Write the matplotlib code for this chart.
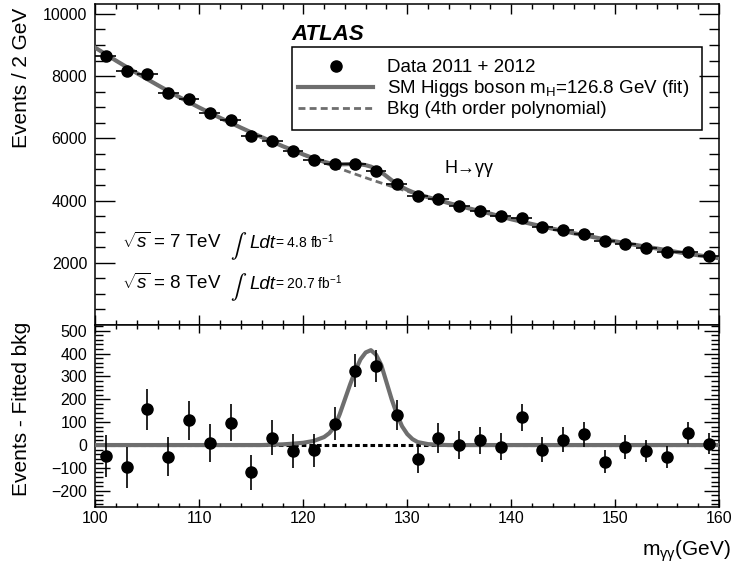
import matplotlib.pyplot as plt
import numpy as np
from matplotlib.patches import Rectangle
from matplotlib.lines import Line2D
from matplotlib.ticker import FixedLocator, MultipleLocator

plt.rcParams['font.family'] = ['Liberation Sans', 'DejaVu Sans']
plt.rcParams['mathtext.fontset'] = 'custom'
plt.rcParams['mathtext.rm'] = 'Liberation Sans'
plt.rcParams['mathtext.it'] = 'Liberation Sans:italic'
plt.rcParams['mathtext.bf'] = 'Liberation Sans:bold'

# diphoton mass bins (2 GeV wide, bin centres)
mass = [101, 103, 105, 107, 109, 111, 113, 115, 117, 119,
        121, 123, 125, 127, 129, 131, 133, 135, 137, 139,
        141, 143, 145, 147, 149, 151, 153, 155, 157, 159]
events = [8640, 8175, 8058, 7465, 7262, 6825, 6592, 6072, 5923, 5578,
          5312, 5180, 5178, 4965, 4520, 4138, 4045, 3815, 3678, 3492,
          3455, 3150, 3040, 2935, 2700, 2620, 2488, 2345, 2342, 2205]
events_err = [93, 90, 90, 86, 85, 83, 81, 78, 77, 75,
              73, 72, 72, 70, 67, 64, 64, 62, 61, 59,
              59, 56, 55, 54, 52, 51, 50, 48, 48, 47]
# events minus fitted background
resid = [-47, -98, 157, -51, 108, 10, 97, -120, 33, -26,
         -23, 93, 326, 346, 132, -60, 31, 0, 20, -8,
         122, -20, 24, 47, -72, -8, -26, -53, 54, 6]

# fitted curves
fit_mass = [100, 102, 104, 106, 108, 110, 112, 114, 116, 118,
            119, 120, 121, 122, 122.5, 123, 123.5, 124, 124.5, 125,
            125.5, 126, 126.5, 127, 127.5, 128, 128.5, 129, 129.5, 130,
            130.5, 131, 132, 133, 134, 136, 138, 140, 142, 144,
            146, 148, 150, 152, 154, 156, 158, 160]
bkg_fit = [8910, 8493, 8093, 7708, 7338, 6988, 6658, 6343, 6038, 5748,
           5610, 5473, 5340, 5213, 5151, 5090, 5030, 4969, 4909, 4850,
           4792, 4734, 4677, 4620, 4564, 4509, 4454, 4400, 4349, 4299,
           4249, 4200, 4104, 4010, 3919, 3744, 3579, 3400, 3245, 3095,
           2952, 2820, 2690, 2572, 2460, 2345, 2242, 2150]
sig_fit = [0, 0, 0, 0, 0, 0, 0, 0, 0, 3,
           6, 10, 18, 35, 52, 80, 135, 200, 265, 325,
           375, 405, 415, 395, 350, 275, 200, 135, 82, 48,
           26, 13, 4, 1, 0, 0, 0, 0, 0, 0,
           0, 0, 0, 0, 0, 0, 0, 0]

energies = ['7', '8']
lumis = ['4.8', '20.7']

sb_fit = np.array(bkg_fit) + np.array(sig_fit)
zero_line = np.zeros(len(fit_mass))

line_grey = '#6e6e6e'

fig = plt.figure(figsize=(7.34, 5.70), dpi=100)
ax1 = fig.add_axes([0.1301, 0.4298, 0.8495, 0.5632])
ax2 = fig.add_axes([0.1301, 0.1105, 0.8495, 0.3193])

# ---- top panel
ax1.plot(fit_mass, bkg_fit, color=line_grey, lw=2.0, ls=(0, (2.5, 1.5)), zorder=2)
ax1.plot(fit_mass, sb_fit, color=line_grey, lw=3.0, zorder=3)
ax1.errorbar(mass, events, yerr=events_err, xerr=1, fmt='o', color='black',
             ms=8, elinewidth=1.2, capsize=0, zorder=4)
ax1.set_xlim(100, 160)
ax1.set_ylim(0, 10320)
ax1.yaxis.set_major_locator(FixedLocator([2000, 4000, 6000, 8000, 10000]))
ax1.yaxis.set_minor_locator(MultipleLocator(500))

# ---- bottom panel
ax2.plot(fit_mass, zero_line, color='black', lw=2.2, ls=(0, (1.5, 1.0)), zorder=2)
ax2.plot(fit_mass, sig_fit, color=line_grey, lw=3.0, zorder=3)
ax2.errorbar(mass, resid, yerr=events_err, fmt='o', color='black',
             ms=8, elinewidth=1.2, capsize=0, zorder=4)
ax2.set_xlim(100, 160)
ax2.set_ylim(-271, 525)
ax2.yaxis.set_major_locator(FixedLocator([-200, -100, 0, 100, 200, 300, 400, 500]))
ax2.yaxis.set_minor_locator(MultipleLocator(20))

for ax in (ax1, ax2):
    ax.xaxis.set_major_locator(MultipleLocator(10))
    ax.xaxis.set_minor_locator(MultipleLocator(2))
    ax.tick_params(which='both', direction='in', top=True, right=True,
                   width=1.0, colors='black', labelsize=11.5)
    for sp in ax.spines.values():
        sp.set_linewidth(1.1)

ax1.tick_params(axis='x', which='major', length=7)
ax1.tick_params(axis='x', which='minor', length=3.6)
ax1.tick_params(axis='y', which='major', length=14.5, pad=6)
ax1.tick_params(axis='y', which='minor', length=7.5)
ax1.tick_params(labelbottom=False)
ax2.tick_params(axis='x', which='major', length=5.5, pad=3)
ax2.tick_params(axis='x', which='minor', length=2.8)
ax2.tick_params(axis='y', which='major', length=11, pad=6)
ax2.tick_params(axis='y', which='minor', length=6)

# axis titles
fig.text(22 / 734, 1 - 8 / 570, 'Events / 2 GeV', rotation=90,
         ha='center', va='top', fontsize=15)
fig.text(22 / 734, 1 - 322 / 570, 'Events - Fitted bkg', rotation=90,
         ha='center', va='top', fontsize=15)
fig.text(731 / 734, 0.010, r'm$_{\mathrm{\gamma\gamma}}$(GeV)',
         ha='right', va='bottom', fontsize=15)

# ATLAS label, legend, annotations
ax1.text(0.315, 0.888, 'ATLAS', transform=ax1.transAxes, fontsize=16,
         fontweight='bold', fontstyle='italic', va='baseline')
ax1.add_patch(Rectangle((0.315, 0.607), 0.658, 0.259, transform=ax1.transAxes,
                        fill=False, lw=1.1, ec='black', zorder=5))
handles = [
    Line2D([], [], marker='o', ls='none', color='black', ms=8),
    Line2D([], [], color=line_grey, lw=3.0),
    Line2D([], [], color=line_grey, lw=2.0, ls=(0, (2.5, 1.5))),
]
labels = ['Data 2011 + 2012',
          r'SM Higgs boson m$_{\mathrm{H}}$=126.8 GeV (fit)',
          'Bkg (4th order polynomial)']
ax1.legend(handles, labels, loc='upper left', bbox_to_anchor=(0.3248, 0.828),
           frameon=False, fontsize=13.5, borderpad=0, borderaxespad=0,
           handlelength=4.0, handletextpad=0.75, labelspacing=0.1)

ax1.text(0.559, 0.489, 'H→γγ', transform=ax1.transAxes, fontsize=13,
         va='center', ha='left')

for y, energy, lumi in zip([0.240, 0.112], energies, lumis):
    ax1.text(0.0425, y, r'$\sqrt{s}$ = %s TeV' % energy, transform=ax1.transAxes,
             fontsize=13.5, va='baseline')
    ax1.text(0.2165, y - 0.012, r'$\int$', transform=ax1.transAxes, fontsize=17,
             math_fontfamily='stix', va='baseline')
    ax1.text(0.2465, y, 'Ldt', transform=ax1.transAxes, fontsize=13.5,
             fontstyle='italic', va='baseline')
    ax1.text(0.2880, y, '= %s fb$^{-1}$' % lumi, transform=ax1.transAxes,
             fontsize=10, va='baseline')

fig.savefig('out.png', dpi=100)
